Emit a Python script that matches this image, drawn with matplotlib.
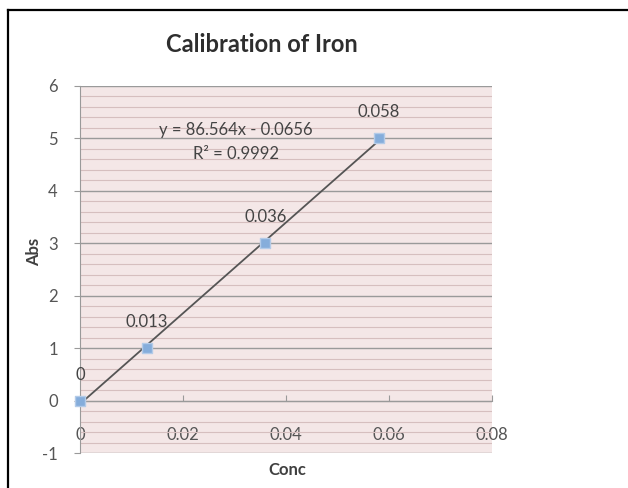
import numpy as np
import matplotlib
matplotlib.use("Agg")
import matplotlib.pyplot as plt
from matplotlib.lines import Line2D

# calibration data
conc = [0.0, 0.013, 0.036, 0.058]
absorb = [0.0, 1.0, 3.0, 5.0]
point_labels = ["0", "0.013", "0.036", "0.058"]
slope, intercept = 86.564, -0.0656
eq_text = "y = 86.564x - 0.0656"
r2_text = "R² = 0.9992"
x_ticks = [0, 0.02, 0.04, 0.06, 0.08]
x_ticklabels = ["0", "0.02", "0.04", "0.06", "0.08"]
y_ticks = [-1, 0, 1, 2, 3, 4, 5, 6]

plt.rcParams["font.family"] = ["Lato", "DejaVu Sans"]
plt.rcParams["axes.unicode_minus"] = False

fig = plt.figure(figsize=(6.28, 4.88), dpi=100)
fig.patch.set_facecolor("white")
# black frame: only left and top edges show in the screenshot
fx, fy = 8 / 628, 1 - 10 / 488
fig.lines.append(Line2D([fx, fx], [0, fy], transform=fig.transFigure,
                        color="black", linewidth=1.6))
fig.lines.append(Line2D([fx, 1], [fy, fy], transform=fig.transFigure,
                        color="black", linewidth=1.6))

ax = fig.add_axes([80 / 628, 1 - 453 / 488, 412 / 628, 367 / 488])
ax.set_facecolor("#f4e7e7")
ax.set_xlim(0, 0.08)
ax.set_ylim(-1, 6)

# gridlines: minor pinkish, major gray
ax.set_yticks(y_ticks)
ax.set_yticks(np.arange(-1, 6.01, 0.2), minor=True)
ax.grid(True, axis="y", which="minor", color="#d6bfbf", linewidth=0.8)
ax.grid(True, axis="y", which="major", color="#9a9a9a", linewidth=1.0)
ax.set_axisbelow(True)

ax.set_xticks(x_ticks)
ax.set_xticklabels(x_ticklabels)

for s in ["top", "right"]:
    ax.spines[s].set_visible(False)
ax.spines["left"].set_color("#9a9a9a")
ax.spines["bottom"].set_position(("data", 0))
ax.spines["bottom"].set_color("#9a9a9a")
ax.tick_params(axis="y", which="minor", length=0)
ax.tick_params(axis="y", which="major", length=4, color="#9a9a9a",
               labelsize=12, labelcolor="#555555", pad=12)
ax.tick_params(axis="x", which="major", length=4, direction="in",
               color="#9a9a9a", labelsize=12, labelcolor="#555555", pad=19)

# trendline
xs = np.array([conc[0], conc[-1]])
ax.plot(xs, slope * xs + intercept, color="#555555", linewidth=1.3, zorder=3)

# data points
ax.scatter(conc, absorb, marker="s", s=55, color="#85addb",
           edgecolors="#b3cbe8", linewidths=1, zorder=4, clip_on=False)

for x, y, lab in zip(conc, absorb, point_labels):
    ax.annotate(lab, (x, y), xytext=(0, 13), textcoords="offset points",
                ha="center", va="bottom", fontsize=12, color="#444444")

ax.text(0.0303, 5.17, eq_text, ha="center", va="center", fontsize=12,
        color="#444444")
ax.text(0.0303, 4.7, r2_text, ha="center", va="center", fontsize=12,
        color="#444444")

fig.text(262 / 628, 1 - 45 / 488, "Calibration of Iron", ha="center",
         va="center", fontsize=17, fontweight="bold", color="#2e2e2e")
fig.text(34 / 628, 1 - 252 / 488, "Abs", ha="center", va="center",
         rotation=90, fontsize=12, fontweight="bold", color="#404040")
fig.text(287 / 628, 1 - 470 / 488, "Conc", ha="center", va="center",
         fontsize=12, fontweight="bold", color="#404040")

fig.savefig("out.png", dpi=100)
